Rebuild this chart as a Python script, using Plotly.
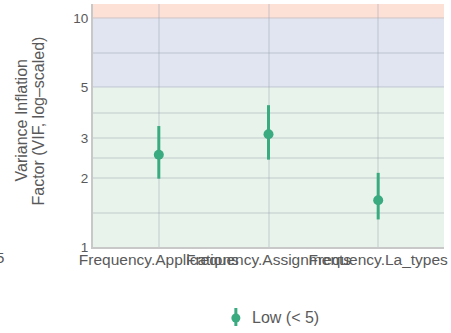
import math
import plotly.graph_objects as go

# Collinearity check: VIF per term with confidence interval
terms = ["Frequency.Applications", "Frequency.Assignments", "Frequency.La_types"]
vif = [2.53, 3.11, 1.60]
ci_low = [1.99, 2.41, 1.32]
ci_high = [3.38, 4.17, 2.11]

y_ticks = [1, 2, 3, 5, 10]
y_minor = [math.sqrt(2), math.sqrt(6), math.sqrt(15), math.sqrt(50)]
y_top = 11.55

point_color = "#3aaa80"
grid_color = "rgba(150,160,170,0.24)"
text_color = "#595959"

fig = go.Figure()

fig.add_trace(go.Scatter(
    x=list(range(len(terms))),
    y=vif,
    mode="markers",
    marker=dict(color=point_color, size=10),
    error_y=dict(
        type="data",
        symmetric=False,
        array=[h - v for h, v in zip(ci_high, vif)],
        arrayminus=[v - l for v, l in zip(vif, ci_low)],
        color=point_color,
        thickness=3,
        width=0,
    ),
    showlegend=False,
    name="Low (< 5)",
))

# Background bands: low / moderate / high VIF zones
bands = [(1, 5, "#e8f3ec"), (5, 10, "#e1e5f2"), (10, y_top, "#fde0d6")]
shapes = []
for lo, hi, col in bands:
    shapes.append(dict(type="rect", xref="x", yref="y", x0=-0.6, x1=2.6,
                       y0=lo, y1=hi, fillcolor=col, line_width=0, layer="below"))

# Legend entry drawn beneath the plot
lx, ly = 0.407, -0.292
shapes.append(dict(type="line", xref="paper", yref="paper",
                   x0=lx, x1=lx, y0=-0.251, y1=-0.325,
                   line=dict(color=point_color, width=3)))
shapes.append(dict(type="circle", xref="paper", yref="paper",
                   xsizemode="pixel", ysizemode="pixel",
                   xanchor=lx, yanchor=ly, x0=-4.5, x1=4.5, y0=-4.5, y1=4.5,
                   fillcolor=point_color, line_width=0))

title_y = (247 - 121) / 243
annotations = [
    dict(text="Low (< 5)", xref="paper", yref="paper", x=0.447, y=ly,
         xanchor="left", yanchor="middle", showarrow=False,
         font=dict(size=16, color=text_color)),
    dict(text="Variance Inflation", xref="paper", yref="paper",
         x=(20.5 - 93) / 351, y=title_y, xanchor="center", yanchor="middle",
         textangle=-90, showarrow=False, font=dict(size=16, color=text_color)),
    dict(text="Factor (VIF, log–scaled)", xref="paper", yref="paper",
         x=(37.5 - 93) / 351, y=title_y, xanchor="center", yanchor="middle",
         textangle=-90, showarrow=False, font=dict(size=16, color=text_color)),
    dict(text="5", xref="paper", yref="paper", x=(6 - 93) / 351, y=(247 - 257) / 243,
         xanchor="right", yanchor="middle", showarrow=False,
         font=dict(size=15, color=text_color)),
]

fig.update_layout(
    width=451, height=333,
    margin=dict(l=93, r=7, t=4, b=86),
    paper_bgcolor="white",
    plot_bgcolor="white",
    font=dict(family="Liberation Sans, Arial, sans-serif", size=13, color=text_color),
    shapes=shapes,
    annotations=annotations,
    xaxis=dict(
        range=[-0.6, 2.6],
        tickmode="array",
        tickvals=list(range(len(terms))),
        ticktext=terms,
        tickangle=0,
        showgrid=True, gridcolor=grid_color, gridwidth=1.5,
        zeroline=False,
        showline=True, linecolor="#c8c8c8", linewidth=2,
        ticks="", ticklen=0,
        ticklabelstandoff=-3,
        tickfont=dict(size=15.5, color=text_color),
    ),
    yaxis=dict(
        type="log",
        range=[0, math.log10(y_top)],
        tickmode="array",
        tickvals=y_ticks,
        ticktext=[str(v) for v in y_ticks],
        showgrid=True, gridcolor=grid_color, gridwidth=1.5,
        minor=dict(tickmode="array", tickvals=y_minor, showgrid=True,
                   gridcolor=grid_color, gridwidth=1.5, ticks=""),
        zeroline=False,
        showline=True, linecolor="#c8c8c8", linewidth=2,
        ticks="", ticklen=0,
        tickfont=dict(size=13.5, color=text_color),
    ),
)

fig.write_html("out.html")
